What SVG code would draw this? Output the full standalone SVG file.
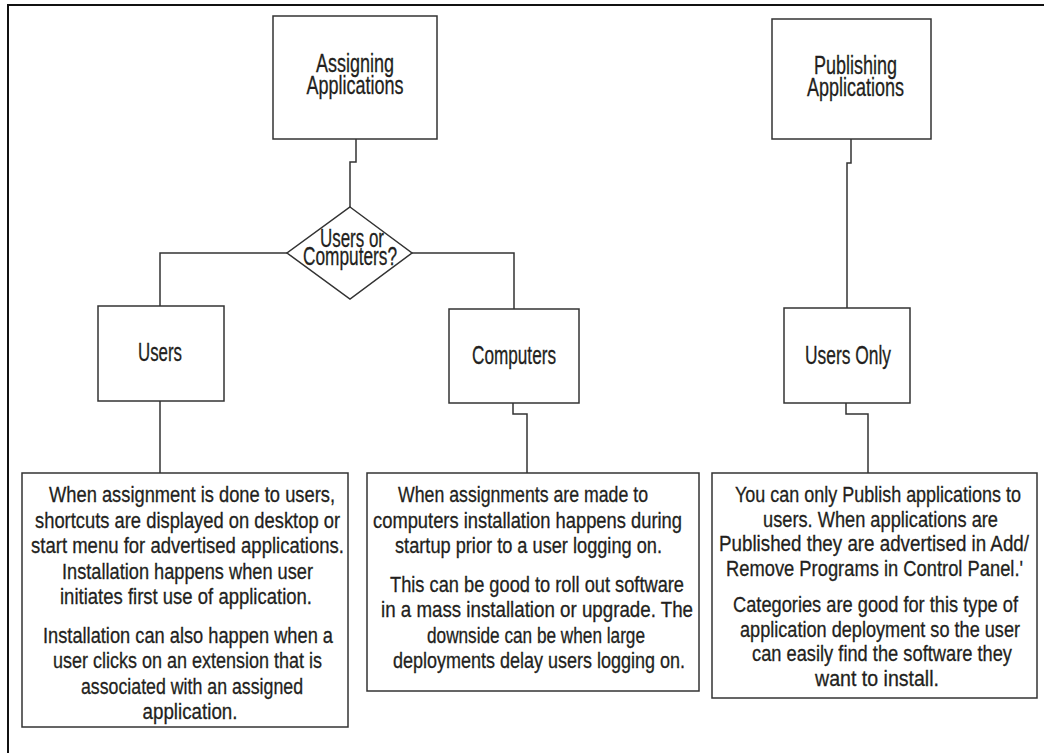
<svg xmlns="http://www.w3.org/2000/svg" width="1044" height="753" viewBox="0 0 1044 753">
<style>
.frame{fill:none;stroke:#111;stroke-width:2}
.box{fill:#fff;stroke:#333;stroke-width:1.5}
.conn{fill:none;stroke:#333;stroke-width:1.5}
text{font-family:"Liberation Sans Narrow","Liberation Sans",Arial,sans-serif;fill:#231f20;stroke:#231f20;stroke-width:0.3}
.lbl{font-size:25px}
.body{font-size:22px}
</style>
<rect width="1044" height="753" fill="#fff"/>
<path class="frame" d="M8,753 V5 H1044"/>
<g id="connectors">
<path class="conn" d="M356,139 V162 H350 V207"/>
<path class="conn" d="M287,253 H160 V306"/>
<path class="conn" d="M412,253 H514 V309"/>
<path class="conn" d="M160,401 V473"/>
<path class="conn" d="M513,403 V414 H527 V473"/>
<path class="conn" d="M851,139 V163 H847 V308"/>
<path class="conn" d="M846,403 V414 H868 V473"/>
</g>
<g id="assigning">
<rect class="box" x="273" y="16" width="164" height="123"/>
<text class="lbl" x="316" y="72" textLength="78" lengthAdjust="spacingAndGlyphs">Assigning</text>
<text class="lbl" x="306.5" y="94" textLength="97" lengthAdjust="spacingAndGlyphs">Applications</text>
</g>
<g id="publishing">
<rect class="box" x="772" y="19" width="159" height="120"/>
<text class="lbl" x="814" y="74" textLength="83" lengthAdjust="spacingAndGlyphs">Publishing</text>
<text class="lbl" x="807" y="96" textLength="97" lengthAdjust="spacingAndGlyphs">Applications</text>
</g>
<g id="decision">
<polygon class="box" points="350,207 412,253 350,299 287,253"/>
<text class="lbl" x="320" y="247" textLength="64" lengthAdjust="spacingAndGlyphs">Users or</text>
<text class="lbl" x="303" y="265" textLength="94" lengthAdjust="spacingAndGlyphs">Computers?</text>
</g>
<g id="users">
<rect class="box" x="98" y="306" width="126" height="95"/>
<text class="lbl" x="138" y="361" textLength="44" lengthAdjust="spacingAndGlyphs">Users</text>
</g>
<g id="computers">
<rect class="box" x="449" y="309" width="130" height="94"/>
<text class="lbl" x="472" y="364" textLength="84" lengthAdjust="spacingAndGlyphs">Computers</text>
</g>
<g id="usersonly">
<rect class="box" x="784" y="308" width="126" height="95"/>
<text class="lbl" x="805" y="364" textLength="86" lengthAdjust="spacingAndGlyphs">Users Only</text>
</g>
<g id="users-note">
<rect class="box" x="22" y="473" width="326" height="254"/>
<text class="body" x="49" y="502" textLength="286" lengthAdjust="spacingAndGlyphs">When assignment is done to users,</text>
<text class="body" x="35" y="527.5" textLength="305" lengthAdjust="spacingAndGlyphs">shortcuts are displayed on desktop or</text>
<text class="body" x="31" y="553" textLength="313" lengthAdjust="spacingAndGlyphs">start menu for advertised applications.</text>
<text class="body" x="62" y="578.5" textLength="251" lengthAdjust="spacingAndGlyphs">Installation happens when user</text>
<text class="body" x="60" y="604" textLength="252" lengthAdjust="spacingAndGlyphs">initiates first use of application.</text>
<text class="body" x="43" y="642.5" textLength="290" lengthAdjust="spacingAndGlyphs">Installation can also happen when a</text>
<text class="body" x="53" y="668" textLength="269" lengthAdjust="spacingAndGlyphs">user clicks on an extension that is</text>
<text class="body" x="81" y="693.5" textLength="222" lengthAdjust="spacingAndGlyphs">associated with an assigned</text>
<text class="body" x="142.5" y="719" textLength="95" lengthAdjust="spacingAndGlyphs">application.</text>
</g>
<g id="computers-note">
<rect class="box" x="367" y="473" width="332" height="218"/>
<text class="body" x="398" y="502" textLength="250" lengthAdjust="spacingAndGlyphs">When assignments are made to</text>
<text class="body" x="373" y="527.5" textLength="309" lengthAdjust="spacingAndGlyphs">computers installation happens during</text>
<text class="body" x="395" y="553" textLength="267" lengthAdjust="spacingAndGlyphs">startup prior to a user logging on.</text>
<text class="body" x="390" y="591.5" textLength="294" lengthAdjust="spacingAndGlyphs">This can be good to roll out software</text>
<text class="body" x="381" y="617" textLength="312" lengthAdjust="spacingAndGlyphs">in a mass installation or upgrade.  The</text>
<text class="body" x="427" y="642.5" textLength="218" lengthAdjust="spacingAndGlyphs">downside can be when large</text>
<text class="body" x="393" y="668" textLength="292" lengthAdjust="spacingAndGlyphs">deployments delay users logging on.</text>
</g>
<g id="publish-note">
<rect class="box" x="712" y="473" width="325" height="225"/>
<text class="body" x="735" y="502" textLength="286" lengthAdjust="spacingAndGlyphs">You can only Publish applications to</text>
<text class="body" x="763" y="526.5" textLength="235" lengthAdjust="spacingAndGlyphs">users.  When applications are</text>
<text class="body" x="719" y="551" textLength="310" lengthAdjust="spacingAndGlyphs">Published they are advertised in Add/</text>
<text class="body" x="726" y="575.5" textLength="297" lengthAdjust="spacingAndGlyphs">Remove Programs in Control Panel.'</text>
<text class="body" x="733" y="612" textLength="285" lengthAdjust="spacingAndGlyphs">Categories are good for this type of</text>
<text class="body" x="740" y="636.5" textLength="280" lengthAdjust="spacingAndGlyphs">application deployment so the user</text>
<text class="body" x="752" y="661" textLength="260" lengthAdjust="spacingAndGlyphs">can easily find the software they</text>
<text class="body" x="815" y="685.5" textLength="124" lengthAdjust="spacingAndGlyphs">want to install.</text>
</g>
</svg>
